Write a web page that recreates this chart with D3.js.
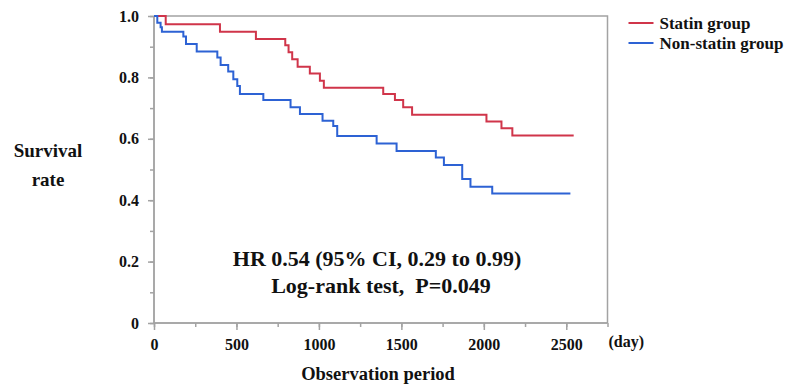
<!DOCTYPE html>
<html>
<head>
<meta charset="utf-8">
<script src="https://cdn.jsdelivr.net/npm/d3@7"></script>
<style>
  body { margin: 0; background: #fff; }
  text { font-family: "Liberation Serif", "Times New Roman", serif; font-weight: bold; fill: #111; }
</style>
</head>
<body>
<div id="chart"></div>
<script>
// Kaplan-Meier step points (day, survival)
var statinDays = [0, 71, 400, 618, 796, 816, 838, 871, 945, 1006, 1030, 1390, 1461, 1511, 1565, 2016, 2107, 2173, 2545];
var statinSurv = [1.0, 0.973, 0.949, 0.925, 0.905, 0.882, 0.859, 0.835, 0.813, 0.789, 0.766, 0.746, 0.726, 0.703, 0.678, 0.656, 0.634, 0.611, 0.611];

var nonStatinDays = [0, 20, 40, 48, 178, 194, 259, 384, 404, 450, 481, 505, 521, 663, 828, 885, 1022, 1087, 1111, 1350, 1471, 1709, 1758, 1869, 1919, 2051, 2525];
var nonStatinSurv = [1.0, 0.978, 0.963, 0.949, 0.933, 0.909, 0.884, 0.865, 0.840, 0.819, 0.794, 0.772, 0.746, 0.726, 0.703, 0.681, 0.659, 0.642, 0.609, 0.585, 0.560, 0.539, 0.515, 0.469, 0.444, 0.422, 0.422];

var seriesNames = ["Statin group", "Non-statin group"];
var xMajorTicks = [0, 500, 1000, 1500, 2000, 2500];
var yMajorTicks = [0, 0.2, 0.4, 0.6, 0.8, 1.0];
var yTickLabels = ["0", "0.2", "0.4", "0.6", "0.8", "1.0"];

var W = 786, H = 386;
var margin = {top: 16, right: 178.5, bottom: 63, left: 154},
    width = W - margin.left - margin.right,
    height = H - margin.top - margin.bottom;

var svg = d3.select("#chart")
    .append("svg")
    .attr("width", W)
    .attr("height", H)
    .append("g")
    .attr("transform", "translate(" + margin.left + "," + margin.top + ")");

var x = d3.scaleLinear().domain([0, 2750]).range([0, width]);
var y = d3.scaleLinear().domain([0, 1]).range([height, 0]);

var color = d3.scaleOrdinal()
    .domain(seriesNames)
    .range(["#d0354a", "#2d62d4"]);

var axisGrey = "#a3a3a3";

// frame: top and right border
svg.append("path")
    .attr("d", "M0,0H" + width + "V" + height)
    .attr("fill", "none")
    .attr("stroke", axisGrey)
    .attr("stroke-width", 1.5);

// minor ticks
var xMinor = svg.append("g")
    .attr("transform", "translate(0," + height + ")")
    .call(d3.axisBottom(x).tickValues(d3.range(0, 2751, 250)).tickSize(4).tickFormat(""));
var yMinor = svg.append("g")
    .call(d3.axisLeft(y).tickValues(d3.range(0, 11).map(d => d / 10)).tickSize(4).tickFormat(""));

// major axes
var xAxis = svg.append("g")
    .attr("transform", "translate(0," + height + ")")
    .call(d3.axisBottom(x).tickValues(xMajorTicks).tickSize(7).tickPadding(9).tickFormat(d3.format("d")));
var yAxis = svg.append("g")
    .call(d3.axisLeft(y).tickValues(yMajorTicks).tickSize(6).tickPadding(9)
        .tickFormat((d, i) => yTickLabels[i]));

[xMinor, yMinor, xAxis, yAxis].forEach(function(g) {
    g.attr("font-family", null).attr("font-size", null);
    g.selectAll("path, line").attr("stroke", axisGrey).attr("stroke-width", 1.5);
    g.select(".domain").attr("d", g === xMinor || g === xAxis ? "M0,0H" + width : "M0," + height + "V0");
});
xAxis.selectAll("text").style("font-size", "16px");
yAxis.selectAll("text").style("font-size", "16px");

// step curves
var line = d3.line()
    .x(d => x(d[0]))
    .y(d => y(d[1]))
    .curve(d3.curveStepAfter);

var series = [
    {name: seriesNames[0], pts: d3.zip(statinDays, statinSurv)},
    {name: seriesNames[1], pts: d3.zip(nonStatinDays, nonStatinSurv)}
];

svg.selectAll(".km")
    .data(series)
    .enter()
    .append("path")
    .attr("class", "km")
    .attr("d", d => line(d.pts))
    .attr("fill", "none")
    .attr("stroke", d => color(d.name))
    .attr("stroke-width", 2);

// annotation
svg.append("text")
    .attr("x", 223)
    .attr("y", 250)
    .attr("text-anchor", "middle")
    .style("font-size", "22px")
    .text("HR 0.54 (95% CI, 0.29 to 0.99)");
svg.append("text")
    .attr("x", 227)
    .attr("y", 277)
    .attr("text-anchor", "middle")
    .style("font-size", "22px")
    .style("white-space", "pre")
    .text("Log-rank test,  P=0.049");

// axis titles
svg.append("text")
    .attr("x", width + 1)
    .attr("y", height + 24)
    .style("font-size", "16px")
    .text("(day)");
svg.append("text")
    .attr("x", 224)
    .attr("y", height + 57)
    .attr("text-anchor", "middle")
    .style("font-size", "18.5px")
    .text("Observation period");
var yTitle = svg.append("text")
    .attr("text-anchor", "middle")
    .style("font-size", "19px");
yTitle.append("tspan").attr("x", -106).attr("y", 141).text("Survival");
yTitle.append("tspan").attr("x", -106).attr("y", 170).text("rate");

// legend
var legend = svg.append("g")
    .attr("transform", "translate(" + (width + 21) + ", 7)");

seriesNames.forEach((name, i) => {
    legend.append("line")
        .attr("x1", 0)
        .attr("x2", 25)
        .attr("y1", i * 20)
        .attr("y2", i * 20)
        .attr("stroke", color(name))
        .attr("stroke-width", 2);
    legend.append("text")
        .attr("x", 31)
        .attr("y", i * 20 + 6)
        .style("font-size", "17px")
        .text(name);
});
</script>
</body>
</html>
